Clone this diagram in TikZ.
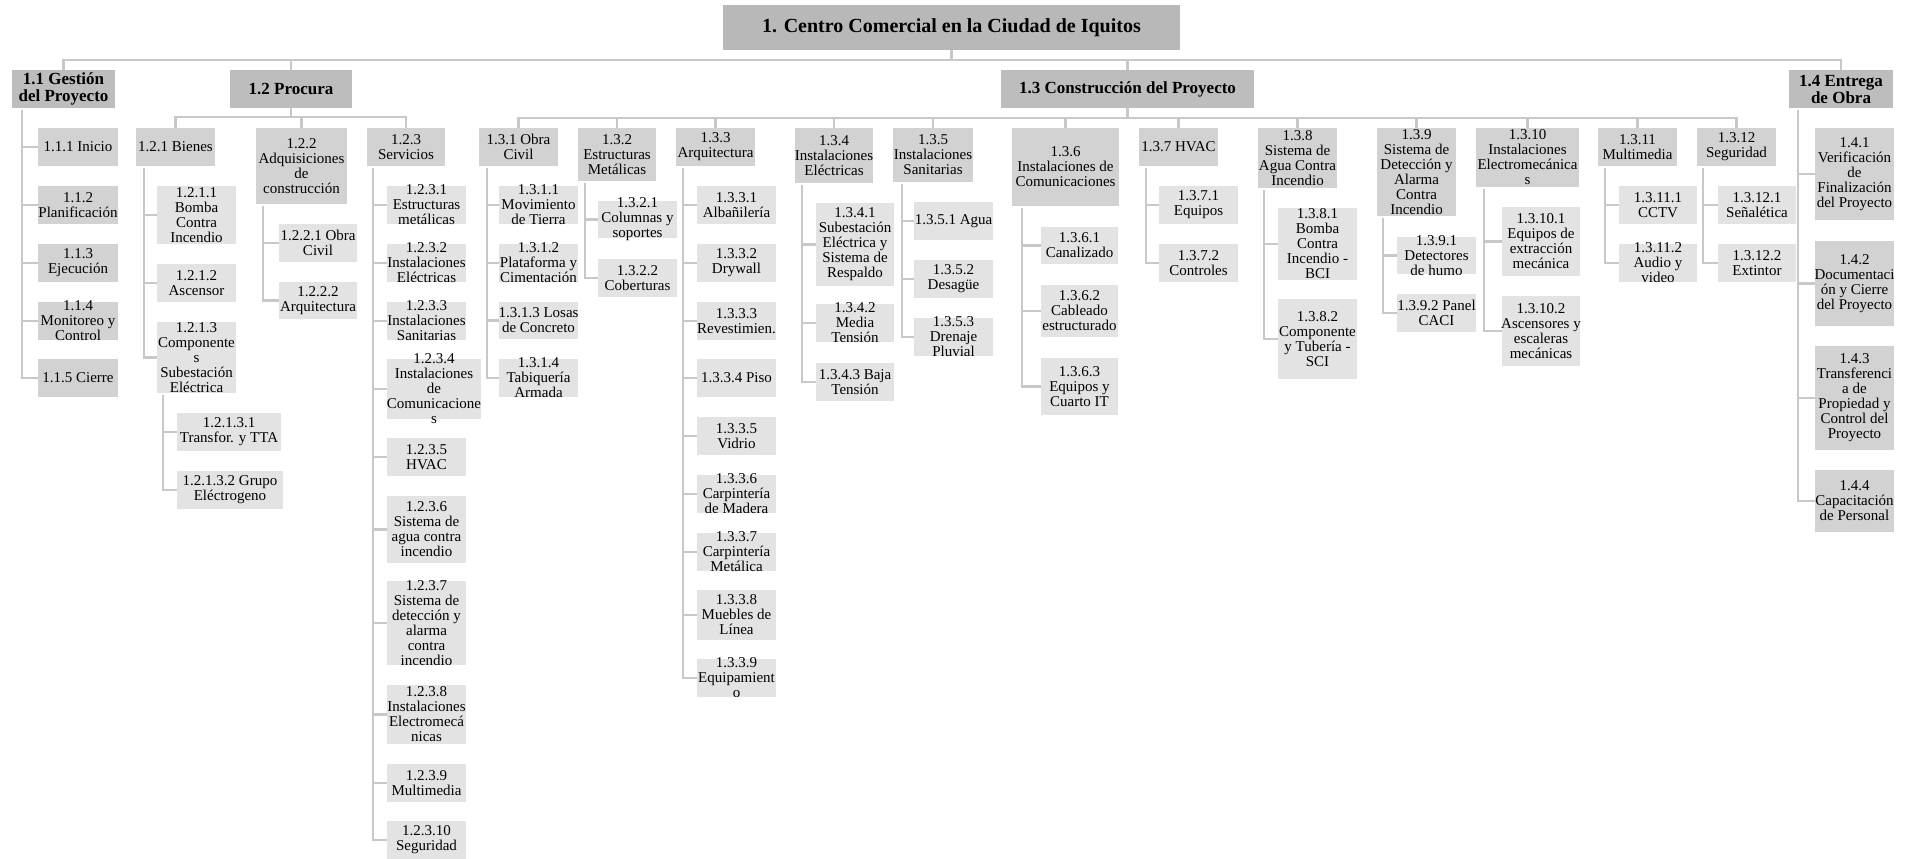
\documentclass[tikz,border=0pt]{standalone}
\usepackage{fontspec}
\setmainfont{Liberation Serif}

\definecolor{lvA}{HTML}{B8B8B8}
\definecolor{lvB}{HTML}{BDBDBD}
\definecolor{lvC}{HTML}{D2D2D2}
\definecolor{lvD}{HTML}{E3E3E3}
\definecolor{wire}{HTML}{C8C8C8}

\tikzset{
  boxbase/.style={rectangle, inner sep=0pt, outer sep=0pt, draw=none},
  topbox/.style={boxbase, fill=lvA},
  mainbox/.style={boxbase, fill=lvB},
  subbox/.style={boxbase, fill=lvC},
  leafbox/.style={boxbase, fill=lvD},
  txt/.style={inner sep=0pt, align=center, font=\fontsize{15}{15}\selectfont},
  bigtxt/.style={inner sep=0pt, align=center, font=\fontsize{17}{17}\selectfont\bfseries},
  titletxt/.style={inner sep=0pt, align=center, font=\fontsize{20}{22}\selectfont\bfseries},
  conn/.style={draw=wire, line width=2.4pt},
}

% box with fixed corners (x1,y1)-(x2,y2), y counted downwards; text laid over it
\newcommand\wbsbox[8][txt]{%
  \node[#3, minimum width={#6-#4}, minimum height={#7-#5}] (#2) at ({(#4+#6)/2},{(#5+#7)/2}) {};
  \node[#1] at (#2.center) {#8};
}
% spine down the left of a parent, with a tick to each child
\newcommand\spine[4][7]{%
  \coordinate (#2sp) at ([xshift=#1pt,yshift=-2pt]#2.south west);
  \draw[conn] (#2sp) |- (#3.west);
  \foreach \kid in {#4}{\draw[conn] (\kid.west) -- (\kid.west -| #2sp);}
}

\begin{document}
\begin{tikzpicture}[x=1pt,y=-1pt]
\useasboundingbox (0,0) rectangle (1912,859);

% ---- levels 1 and 2
\wbsbox[titletxt]{t}{topbox}{723}{5}{1180}{50}{1. Centro Comercial en la Ciudad de Iquitos}
\wbsbox[bigtxt]{g1}{mainbox}{12}{70}{115}{108}{1.1 Gestión\\del Proyecto}
\wbsbox[bigtxt]{g2}{mainbox}{230}{70}{352}{108}{1.2 Procura}
\wbsbox[bigtxt]{g3}{mainbox}{1001}{70}{1254}{108}{1.3 Construcción del Proyecto}
\wbsbox[bigtxt]{g4}{mainbox}{1789}{70}{1893}{108}{1.4 Entrega\\de Obra}

% ---- 1.1
\wbsbox{a1}{subbox}{38}{128}{118}{166}{1.1.1 Inicio}
\wbsbox{a2}{subbox}{38}{186}{118}{224}{1.1.2\\Planificación}
\wbsbox{a3}{subbox}{38}{244}{118}{282}{1.1.3\\Ejecución}
\wbsbox{a4}{subbox}{38}{302}{118}{340}{1.1.4\\Monitoreo y\\Control}
\wbsbox{a5}{subbox}{38}{359}{118}{397}{1.1.5 Cierre}

% ---- 1.2
\wbsbox{p1}{subbox}{136}{128}{215}{166}{1.2.1 Bienes}
\wbsbox{p2}{subbox}{256}{128}{347}{204}{1.2.2\\Adquisiciones\\de\\construcción}
\wbsbox{p3}{subbox}{367}{128}{445}{166}{1.2.3\\Servicios}

\wbsbox{p11}{leafbox}{157}{186}{236}{244}{1.2.1.1\\Bomba\\Contra\\Incendio}
\wbsbox{p12}{leafbox}{157}{264}{236}{302}{1.2.1.2\\Ascensor}
\wbsbox{p13}{leafbox}{157}{322}{236}{393}{1.2.1.3\\Componente\\s\\Subestación\\Eléctrica}
\wbsbox{p131}{leafbox}{177}{413}{281}{451}{1.2.1.3.1\\Transfor. y TTA}
\wbsbox{p132}{leafbox}{177}{471}{283}{509}{1.2.1.3.2 Grupo\\Eléctrogeno}

\wbsbox{p21}{leafbox}{279}{224}{357}{262}{1.2.2.1 Obra\\Civil}
\wbsbox{p22}{leafbox}{279}{282}{357}{319}{1.2.2.2\\Arquitectura}

\wbsbox{p31}{leafbox}{387}{186}{466}{224}{1.2.3.1\\Estructuras\\metálicas}
\wbsbox{p32}{leafbox}{387}{244}{466}{282}{1.2.3.2\\Instalaciones\\Eléctricas}
\wbsbox{p33}{leafbox}{387}{302}{466}{340}{1.2.3.3\\Instalaciones\\Sanitarias}
\wbsbox{p34}{leafbox}{387}{359}{481}{419}{1.2.3.4\\Instalaciones\\de\\Comunicacione\\s}
\wbsbox{p35}{leafbox}{387}{438}{466}{476}{1.2.3.5\\HVAC}
\wbsbox{p36}{leafbox}{387}{496}{466}{563}{1.2.3.6\\Sistema de\\agua contra\\incendio}
\wbsbox{p37}{leafbox}{387}{581}{466}{665}{1.2.3.7\\Sistema de\\detección y\\alarma\\contra\\incendio}
\wbsbox{p38}{leafbox}{387}{685}{466}{744}{1.2.3.8\\Instalaciones\\Electromecá\\nicas}
\wbsbox{p39}{leafbox}{387}{764}{466}{802}{1.2.3.9\\Multimedia}
\wbsbox{p310}{leafbox}{387}{821}{466}{859}{1.2.3.10\\Seguridad}

% ---- 1.3
\wbsbox{c1}{subbox}{479}{128}{558}{166}{1.3.1 Obra\\Civil}
\wbsbox{c2}{subbox}{578}{128}{656}{181}{1.3.2\\Estructuras\\Metálicas}
\wbsbox{c3}{subbox}{676}{128}{755}{166}{1.3.3\\Arquitectura}
\wbsbox{c4}{subbox}{795}{128}{873}{183}{1.3.4\\Instalaciones\\Eléctricas}
\wbsbox{c5}{subbox}{893}{128}{973}{182}{1.3.5\\Instalaciones\\Sanitarias}
\wbsbox{c6}{subbox}{1012}{128}{1119}{206}{1.3.6\\Instalaciones de\\Comunicaciones}
\wbsbox{c7}{subbox}{1139}{128}{1218}{166}{1.3.7 HVAC}
\wbsbox{c8}{subbox}{1258}{128}{1337}{188}{1.3.8\\Sistema de\\Agua Contra\\Incendio}
\wbsbox{c9}{subbox}{1377}{128}{1456}{216}{1.3.9\\Sistema de\\Detección y\\Alarma\\Contra\\Incendio}
\wbsbox{c10}{subbox}{1476}{128}{1579}{187}{1.3.10\\Instalaciones\\Electromecánica\\s}
\wbsbox{c11}{subbox}{1598}{128}{1677}{166}{1.3.11\\Multimedia}
\wbsbox{c12}{subbox}{1697}{128}{1776}{166}{1.3.12\\Seguridad}

\wbsbox{c1a}{leafbox}{499}{186}{578}{224}{1.3.1.1\\Movimiento\\de Tierra}
\wbsbox{c1b}{leafbox}{499}{244}{578}{282}{1.3.1.2\\Plataforma y\\Cimentación}
\wbsbox{c1c}{leafbox}{499}{302}{578}{339}{1.3.1.3 Losas\\de Concreto}
\wbsbox{c1d}{leafbox}{499}{359}{578}{397}{1.3.1.4\\Tabiquería\\Armada}

\wbsbox{c2a}{leafbox}{598}{201}{677}{238}{1.3.2.1\\Columnas y\\soportes}
\wbsbox{c2b}{leafbox}{598}{259}{677}{297}{1.3.2.2\\Coberturas}

\wbsbox{c3a}{leafbox}{697}{186}{776}{224}{1.3.3.1\\Albañilería}
\wbsbox{c3b}{leafbox}{697}{244}{776}{282}{1.3.3.2\\Drywall}
\wbsbox{c3c}{leafbox}{697}{302}{776}{340}{1.3.3.3\\Revestimien.}
\wbsbox{c3d}{leafbox}{697}{359}{776}{397}{1.3.3.4 Piso}
\wbsbox{c3e}{leafbox}{697}{417}{776}{455}{1.3.3.5\\Vidrio}
\wbsbox{c3f}{leafbox}{697}{475}{776}{513}{1.3.3.6\\Carpintería\\de Madera}
\wbsbox{c3g}{leafbox}{697}{533}{776}{571}{1.3.3.7\\Carpintería\\Metálica}
\wbsbox{c3h}{leafbox}{697}{590}{776}{640}{1.3.3.8\\Muebles de\\Línea}
\wbsbox{c3i}{leafbox}{697}{659}{776}{697}{1.3.3.9\\Equipamient\\o}

\wbsbox{c4a}{leafbox}{816}{203}{894}{286}{1.3.4.1\\Subestación\\Eléctrica y\\Sistema de\\Respaldo}
\wbsbox{c4b}{leafbox}{816}{304}{894}{342}{1.3.4.2\\Media\\Tensión}
\wbsbox{c4c}{leafbox}{816}{363}{894}{401}{1.3.4.3 Baja\\Tensión}

\wbsbox{c5a}{leafbox}{914}{202}{993}{240}{1.3.5.1 Agua}
\wbsbox{c5b}{leafbox}{914}{260}{993}{298}{1.3.5.2\\Desagüe}
\wbsbox{c5c}{leafbox}{914}{318}{993}{356}{1.3.5.3\\Drenaje\\Pluvial}

\wbsbox{c6a}{leafbox}{1041}{227}{1118}{264}{1.3.6.1\\Canalizado}
\wbsbox{c6b}{leafbox}{1041}{285}{1118}{337}{1.3.6.2\\Cableado\\estructurado}
\wbsbox{c6c}{leafbox}{1041}{358}{1118}{415}{1.3.6.3\\Equipos y\\Cuarto IT}

\wbsbox{c7a}{leafbox}{1159}{186}{1238}{224}{1.3.7.1\\Equipos}
\wbsbox{c7b}{leafbox}{1159}{244}{1238}{282}{1.3.7.2\\Controles}

\wbsbox{c8a}{leafbox}{1278}{208}{1357}{280}{1.3.8.1\\Bomba\\Contra\\Incendio -\\BCI}
\wbsbox{c8b}{leafbox}{1278}{299}{1357}{379}{1.3.8.2\\Componente\\y Tubería -\\SCI}

\wbsbox{c9a}{leafbox}{1397}{237}{1476}{274}{1.3.9.1\\Detectores\\de humo}
\wbsbox{c9b}{leafbox}{1397}{294}{1476}{332}{1.3.9.2 Panel\\CACI}

\wbsbox{c10a}{leafbox}{1502}{207}{1580}{276}{1.3.10.1\\Equipos de\\extracción\\mecánica}
\wbsbox{c10b}{leafbox}{1502}{296}{1580}{366}{1.3.10.2\\Ascensores y\\escaleras\\mecánicas}

\wbsbox{c11a}{leafbox}{1619}{186}{1697}{224}{1.3.11.1\\CCTV}
\wbsbox{c11b}{leafbox}{1619}{244}{1697}{282}{1.3.11.2\\Audio y\\video}

\wbsbox{c12a}{leafbox}{1718}{186}{1796}{224}{1.3.12.1\\Señalética}
\wbsbox{c12b}{leafbox}{1718}{244}{1796}{282}{1.3.12.2\\Extintor}

% ---- 1.4
\wbsbox{e1}{subbox}{1815}{128}{1894}{220}{1.4.1\\Verificación\\de\\Finalización\\del Proyecto}
\wbsbox{e2}{subbox}{1815}{241}{1894}{326}{1.4.2\\Documentaci\\ón y Cierre\\del Proyecto}
\wbsbox{e3}{subbox}{1815}{346}{1894}{450}{1.4.3\\Transferenci\\a de\\Propiedad y\\Control del\\Proyecto}
\wbsbox{e4}{subbox}{1815}{470}{1894}{532}{1.4.4\\Capacitación\\de Personal}

% ---- connectors: horizontal buses
\draw[conn] (t.south) -- ++(0,10);
\draw[conn] (g1.north) -- ++(0,-10) -| (g4.north);
\draw[conn] (g2.north) -- ++(0,-10);
\draw[conn] (g3.north) -- ++(0,-10);

\draw[conn] (g2.south) -- ++(0,9);
\draw[conn] (p1.north) -- ++(0,-11) -| (p3.north);
\draw[conn] (p2.north) -- ++(0,-11);

\draw[conn] (g3.south) -- ++(0,10);
\draw[conn] (c1.north) -- ++(0,-10) -| (c12.north);
\foreach \n in {c2,c3,c4,c5,c6,c7,c8,c9,c10,c11}{\draw[conn] (\n.north) -- ++(0,-10);}

% ---- connectors: side spines
\spine[10]{g1}{a5}{a1,a2,a3,a4}
\spine[8]{p1}{p13}{p11,p12}
\spine[6]{p13}{p132}{p131}
\spine{p2}{p22}{p21}
\spine[6]{p3}{p310}{p31,p32,p33,p34,p35,p36,p37,p38,p39}
\spine[8]{c1}{c1d}{c1a,c1b,c1c}
\spine{c2}{c2b}{c2a}
\spine{c3}{c3i}{c3a,c3b,c3c,c3d,c3e,c3f,c3g,c3h}
\spine{c4}{c4c}{c4a,c4b}
\spine[9]{c5}{c5c}{c5a,c5b}
\spine[10]{c6}{c6c}{c6a,c6b}
\spine{c7}{c7b}{c7a}
\spine[6]{c8}{c8b}{c8a}
\spine[6]{c9}{c9b}{c9a}
\spine[8]{c10}{c10b}{c10a}
\spine{c11}{c11b}{c11a}
\spine[6]{c12}{c12b}{c12a}
\spine[9]{g4}{e4}{e1,e2,e3}
\end{tikzpicture}
\end{document}
